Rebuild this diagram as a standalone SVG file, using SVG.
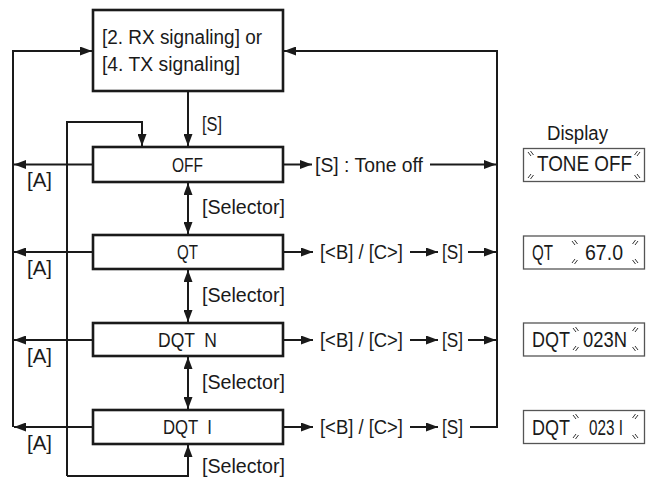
<svg xmlns="http://www.w3.org/2000/svg" width="647" height="483" viewBox="0 0 647 483">
<defs>
<style>
.box{fill:#fff;stroke:#1a1a1a;stroke-width:2.6}
.disp{fill:#fff;stroke:#555;stroke-width:1.3}
.ln{fill:none;stroke:#1a1a1a;stroke-width:2}
.t{font-family:"Liberation Sans Narrow","Liberation Sans",Arial,sans-serif;font-size:20px;fill:#1a1a1a}
.dt{font-family:"Liberation Sans Narrow","Liberation Sans",Arial,sans-serif;font-size:22px;fill:#1a1a1a}
.bl{fill:none;stroke:#333;stroke-width:1}
</style>
<marker id="ah" markerUnits="userSpaceOnUse" viewBox="0 0 12 9" refX="12" refY="4.5" markerWidth="12" markerHeight="9" orient="auto-start-reverse">
<path d="M0,0 L12,4.5 L0,9 Z" fill="#1a1a1a"/>
</marker>
</defs>

<g id="connectors">
<path class="ln" d="M13,427 V51 H92" marker-end="url(#ah)"/>
<path class="ln" d="M93,164.5 H14" marker-end="url(#ah)"/>
<path class="ln" d="M93,252 H14" marker-end="url(#ah)"/>
<path class="ln" d="M93,340 H14" marker-end="url(#ah)"/>
<path class="ln" d="M93,427 H14" marker-end="url(#ah)"/>
<path class="ln" d="M67,476 V122 H142 V146" marker-end="url(#ah)"/>
<path class="ln" d="M67,476 H188 V445" marker-end="url(#ah)"/>
<path class="ln" d="M188,91 V146" marker-end="url(#ah)"/>
<path class="ln" d="M188,183 V234" marker-start="url(#ah)" marker-end="url(#ah)"/>
<path class="ln" d="M188,270 V322" marker-start="url(#ah)" marker-end="url(#ah)"/>
<path class="ln" d="M188,357 V409" marker-start="url(#ah)" marker-end="url(#ah)"/>
<path class="ln" d="M470,427 H497 V51 H284" marker-end="url(#ah)"/>
<path class="ln" d="M284,164.5 H312" marker-end="url(#ah)"/>
<path class="ln" d="M430,164.5 H496" marker-end="url(#ah)"/>
<path class="ln" d="M284,252 H313" marker-end="url(#ah)"/>
<path class="ln" d="M410,252 H438" marker-end="url(#ah)"/>
<path class="ln" d="M468,252 H496" marker-end="url(#ah)"/>
<path class="ln" d="M284,340 H313" marker-end="url(#ah)"/>
<path class="ln" d="M410,340 H438" marker-end="url(#ah)"/>
<path class="ln" d="M468,340 H496" marker-end="url(#ah)"/>
<path class="ln" d="M284,427 H313" marker-end="url(#ah)"/>
<path class="ln" d="M410,427 H438" marker-end="url(#ah)"/>
</g>

<g id="labels">
<text class="t" x="202" y="131" textLength="20" lengthAdjust="spacingAndGlyphs">[S]</text>
<text class="t" x="27" y="187" textLength="25" lengthAdjust="spacingAndGlyphs">[A]</text>
<text class="t" x="27" y="275" textLength="25" lengthAdjust="spacingAndGlyphs">[A]</text>
<text class="t" x="27" y="363" textLength="25" lengthAdjust="spacingAndGlyphs">[A]</text>
<text class="t" x="27" y="450" textLength="25" lengthAdjust="spacingAndGlyphs">[A]</text>
<text class="t" x="202" y="214" textLength="83" lengthAdjust="spacingAndGlyphs">[Selector]</text>
<text class="t" x="202" y="302" textLength="83" lengthAdjust="spacingAndGlyphs">[Selector]</text>
<text class="t" x="202" y="389" textLength="83" lengthAdjust="spacingAndGlyphs">[Selector]</text>
<text class="t" x="202" y="473" textLength="83" lengthAdjust="spacingAndGlyphs">[Selector]</text>
<text class="t" x="315" y="172" textLength="108" lengthAdjust="spacingAndGlyphs">[S] : Tone off</text>
<text class="t" x="320" y="259" textLength="83" lengthAdjust="spacingAndGlyphs">[&lt;B] / [C&gt;]</text>
<text class="t" x="442" y="259" textLength="21" lengthAdjust="spacingAndGlyphs">[S]</text>
<text class="t" x="320" y="347" textLength="83" lengthAdjust="spacingAndGlyphs">[&lt;B] / [C&gt;]</text>
<text class="t" x="442" y="347" textLength="21" lengthAdjust="spacingAndGlyphs">[S]</text>
<text class="t" x="320" y="434" textLength="83" lengthAdjust="spacingAndGlyphs">[&lt;B] / [C&gt;]</text>
<text class="t" x="442" y="434" textLength="21" lengthAdjust="spacingAndGlyphs">[S]</text>
<text class="t" x="547" y="140" textLength="61" lengthAdjust="spacingAndGlyphs">Display</text>
</g>

<g id="node-menu">
<rect class="box" x="93" y="10" width="190" height="81"/>
<text class="t" x="102" y="44" textLength="160" lengthAdjust="spacingAndGlyphs">[2. RX signaling] or</text>
<text class="t" x="102" y="71" textLength="138" lengthAdjust="spacingAndGlyphs">[4. TX signaling]</text>
</g>
<g id="node-off">
<rect class="box" x="93" y="147" width="190" height="35"/>
<text class="t" x="172" y="172" textLength="31" lengthAdjust="spacingAndGlyphs">OFF</text>
</g>
<g id="node-qt">
<rect class="box" x="93" y="235" width="190" height="34"/>
<text class="t" x="177" y="259" textLength="21" lengthAdjust="spacingAndGlyphs">QT</text>
</g>
<g id="node-dqtn">
<rect class="box" x="93" y="323" width="190" height="33"/>
<text class="t" x="158" y="347" textLength="59" lengthAdjust="spacingAndGlyphs" xml:space="preserve">DQT  N</text>
</g>
<g id="node-dqti">
<rect class="box" x="93" y="410" width="190" height="34"/>
<text class="t" x="163" y="434" textLength="49" lengthAdjust="spacingAndGlyphs" xml:space="preserve">DQT  I</text>
</g>

<g id="display-toneoff">
<rect class="disp" x="523.5" y="148.5" width="121" height="33"/>
<text class="dt" x="537" y="171" textLength="95" lengthAdjust="spacingAndGlyphs">TONE OFF</text>
</g>
<g id="display-qt">
<rect class="disp" x="523.5" y="236" width="121" height="33"/>
<text class="dt" x="532" y="260" textLength="21" lengthAdjust="spacingAndGlyphs">QT</text>
<text class="dt" x="585" y="260" textLength="38" lengthAdjust="spacingAndGlyphs">67.0</text>
</g>
<g id="display-dqtn">
<rect class="disp" x="523.5" y="323" width="121" height="33"/>
<text class="dt" x="532" y="347" textLength="38" lengthAdjust="spacingAndGlyphs">DQT</text>
<text class="dt" x="583" y="347" textLength="44" lengthAdjust="spacingAndGlyphs">023N</text>
</g>
<g id="display-dqti">
<rect class="disp" x="523.5" y="410.5" width="121" height="33"/>
<text class="dt" x="532" y="435" textLength="38" lengthAdjust="spacingAndGlyphs">DQT</text>
<text class="dt" x="589" y="435" textLength="34" lengthAdjust="spacingAndGlyphs" xml:space="preserve">023 I</text>
</g>

<g id="blink-marks" class="bl">
<path d="M528,152 l3,4 M530.5,151 l3,4 M528,178 l3,-4 M530.5,179 l3,-4 M640,152 l-3,4 M637.5,151 l-3,4 M640,178 l-3,-4 M637.5,179 l-3,-4"/>
<path d="M572,241 l3,4 M574.5,240 l3,4 M572,263 l3,-4 M574.5,264 l3,-4 M638,241 l-3,4 M635.5,240 l-3,4 M638,263 l-3,-4 M635.5,264 l-3,-4"/>
<path d="M573,328 l3,4 M575.5,327 l3,4 M573,350 l3,-4 M575.5,351 l3,-4 M638,328 l-3,4 M635.5,327 l-3,4 M638,350 l-3,-4 M635.5,351 l-3,-4"/>
<path d="M573,415 l3,4 M575.5,414 l3,4 M573,438 l3,-4 M575.5,439 l3,-4 M638,415 l-3,4 M635.5,414 l-3,4 M638,438 l-3,-4 M635.5,439 l-3,-4"/>
</g>
</svg>
